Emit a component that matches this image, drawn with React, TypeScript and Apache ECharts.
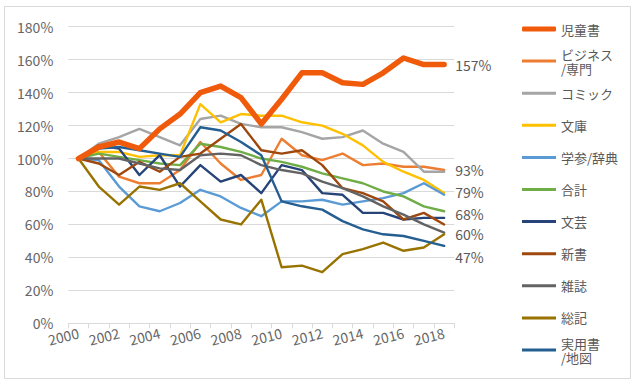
import React, { useEffect, useRef } from "react";
import * as echarts from "echarts";

const years = ["2000","2001","2002","2003","2004","2005","2006","2007","2008","2009","2010","2011","2012","2013","2014","2015","2016","2017","2018"];

const jidousho = [100,107,110,106,118,127,140,144,137,121,136,152,152,146,145,152,161,157,157];
const business = [100,104,89,85,85,93,110,97,87,90,112,102,99,103,96,97,95,95,93];
const comic = [100,109,113,118,113,108,124,126,121,119,119,116,112,113,117,109,104,92,92];
const bunko = [100,104,104,101,102,102,133,122,127,126,126,122,120,115,108,98,92,87,79];
const gakusan = [100,99,83,71,68,73,81,77,70,65,74,74,75,72,74,76,79,85,78];
const total = [100,103,101,99,97,96,109,107,104,100,98,95,91,88,85,80,77,71,68];
const bungei = [100,108,106,90,102,83,96,86,90,79,96,93,79,78,67,67,63,64,64];
const shinsho = [100,97,90,98,92,101,103,112,121,105,103,105,96,82,79,74,63,67,60];
const zasshi = [100,100,100,97,94,93,102,103,102,96,93,91,86,82,77,71,66,60,55];
const souki = [100,83,72,83,81,85,74,63,60,75,34,35,31,42,45,49,44,46,54];
const jitsuyou = [100,106,107,105,103,101,119,117,110,102,74,71,69,62,57,54,53,50,47];

const legendOrder = ["児童書","ビジネス/専門","コミック","文庫","学参/辞典","合計","文芸","新書","雑誌","総記","実用書/地図"];

const FONT = '"Noto Sans CJK JP", "Noto Sans", sans-serif';

export default function App() {
  const ref = useRef<HTMLDivElement>(null);
  useEffect(() => {
    const chart = echarts.init(ref.current!, null, { renderer: "svg" });
    const defs: any[] = [
      { name: "ビジネス/専門", data: business, color: "#ED7D31", endDy: 0 },
      { name: "コミック", data: comic, color: "#A5A5A5" },
      { name: "文庫", data: bunko, color: "#FFC000", endDy: -1 },
      { name: "学参/辞典", data: gakusan, color: "#5B9BD5" },
      { name: "合計", data: total, color: "#70AD47", endDy: 3 },
      { name: "文芸", data: bungei, color: "#264478" },
      { name: "新書", data: shinsho, color: "#9E480E", endDy: 10 },
      { name: "雑誌", data: zasshi, color: "#636363" },
      { name: "総記", data: souki, color: "#997300" },
      { name: "実用書/地図", data: jitsuyou, color: "#255E91", endDy: 11 },
      { name: "児童書", data: jidousho, color: "#F05A0B", endDy: 0, thick: true },
    ];
    const colorOf: Record<string, string> = {};
    defs.forEach((d) => (colorOf[d.name] = d.color));
    const series = defs.map((d) => ({
      name: d.name,
      type: "line",
      data: d.data,
      symbol: "none",
      showSymbol: false,
      z: d.thick ? 4 : 2,
      lineStyle: { color: d.color, width: d.thick ? 5.5 : 2.4, cap: "round", join: "round" },
      itemStyle: { color: d.color },
      emphasis: { disabled: true },
      endLabel: d.endDy !== undefined ? {
        show: true,
        formatter: (p: any) => `${Math.round(Number(p.value))}%`,
        distance: 11,
        offset: [0, d.endDy],
        color: "#595959",
        fontSize: 14,
        fontFamily: FONT,
      } : { show: false },
    }));
    const legends = legendOrder.map((name, i) => {
      const twoLine = name === "ビジネス/専門" || name === "実用書/地図";
      const thick = name === "児童書";
      return {
        show: true,
        selectedMode: false,
        orient: "vertical",
        padding: 0,
        left: 522,
        top: 22 + i * 32.1 - (twoLine ? 14 : 0),
        itemWidth: 34,
        itemHeight: thick ? 5 : 3,
        itemGap: 0,
        icon: thick ? "roundRect" : "rect",
        itemStyle: { color: colorOf[name], borderWidth: 0 },
        data: [{ name, textStyle: twoLine ? { padding: [14, 0, 0, 0] } : {} }],
        formatter: (n: string) => (twoLine ? n.replace("/", "\n/") : n),
        textStyle: { fontFamily: FONT, fontSize: 13, color: "#595959", lineHeight: 14 },
      };
    });
    chart.setOption({
      animation: false,
      backgroundColor: "#FFFFFF",
      textStyle: { fontFamily: FONT },
      grid: { left: 68.3, right: 183.7, top: 26.7, bottom: 61.7, containLabel: false, outerBoundsMode: "none" },
      legend: legends,
      xAxis: {
        type: "category",
        data: years,
        boundaryGap: true,
        axisLine: { show: true, lineStyle: { color: "#D9D9D9", width: 1 } },
        axisTick: { show: true, interval: 0, length: 5, lineStyle: { color: "#D9D9D9" } },
        axisLabel: { interval: 1, rotate: 14, margin: 9, fontSize: 14, color: "#666666", fontFamily: FONT },
        splitLine: { show: false },
      },
      yAxis: {
        type: "value",
        min: 0,
        max: 180,
        interval: 20,
        axisLine: { show: false },
        axisTick: { show: false },
        axisLabel: { formatter: "{value}%", margin: 15, fontSize: 14, color: "#666666", fontFamily: FONT },
        splitLine: { show: true, lineStyle: { color: "#D9D9D9", width: 1 } },
      },
      graphic: [
        {
          type: "rect",
          shape: { x: 4.5, y: 6.5, width: 626, height: 372 },
          style: { fill: "none", stroke: "#D9D9D9", lineWidth: 1 },
          silent: true,
          z: -1,
        },
      ],
      series,
    });
    return () => chart.dispose();
  }, []);
  return <div ref={ref} style={{ position: "fixed", left: 0, top: 0, width: 638, height: 385 }} />;
}
